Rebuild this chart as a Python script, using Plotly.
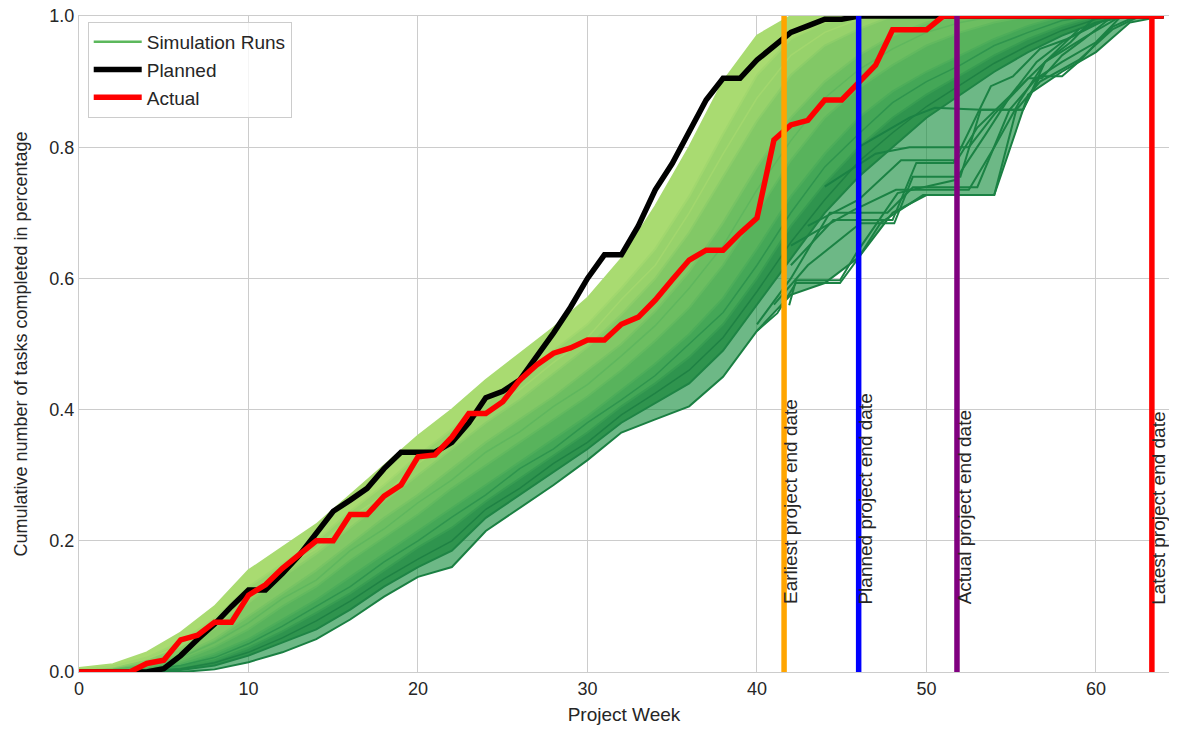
import plotly.graph_objects as go

# ---------------- data ----------------
weeks = [0, 1, 2, 3, 4, 5, 6, 7, 8, 9, 10, 11, 12, 13, 14, 15, 16, 17, 18, 19, 20,
         21, 22, 23, 24, 25, 26, 27, 28, 29, 30, 31, 32, 33, 34, 35, 36, 37, 38, 39, 40,
         41, 42, 43, 44, 45, 46, 47, 48, 49, 50, 51, 52, 53, 54, 55, 56, 57, 58, 59, 60,
         61, 62, 63, 64]

planned = [0, 0, 0, 0, 0, 0.005, 0.025, 0.05, 0.073, 0.10, 0.125, 0.125, 0.15, 0.178, 0.21,
           0.245, 0.262, 0.28, 0.31, 0.335, 0.335, 0.335, 0.35, 0.38, 0.418, 0.428, 0.445,
           0.48, 0.517, 0.556, 0.60, 0.636, 0.636, 0.68, 0.735, 0.775, 0.825, 0.872, 0.905,
           0.905, 0.933, 0.955, 0.975, 0.985, 0.995, 0.995, 1, 1, 1, 1, 1, 1, 1, 1, 1, 1, 1,
           1, 1, 1, 1, 1, 1, 1, 1]

actual = [0, 0, 0, 0, 0.013, 0.018, 0.049, 0.056, 0.076, 0.076, 0.117, 0.133, 0.158, 0.18,
          0.20, 0.20, 0.24, 0.24, 0.268, 0.285, 0.328, 0.331, 0.358, 0.394, 0.394, 0.412,
          0.445, 0.468, 0.486, 0.494, 0.506, 0.506, 0.53, 0.541, 0.567, 0.598, 0.628, 0.643,
          0.643, 0.669, 0.692, 0.811, 0.834, 0.841, 0.872, 0.872, 0.898, 0.925, 0.979, 0.979,
          0.979, 1, 1, 1, 1, 1, 1, 1, 1, 1, 1, 1, 1, 1, 1]

# simulation runs, read every second week (fastest -> slowest)
band_weeks = [0, 2, 4, 6, 8, 10, 12, 14, 16, 18, 20, 22, 24, 26, 28, 30, 32, 34, 36, 38,
              40, 42, 44, 46, 48, 50, 52, 54, 56, 58, 60, 62, 64]
run_0 = [0.006, 0.012, 0.03, 0.06, 0.10, 0.155, 0.19, 0.225, 0.27, 0.315, 0.36, 0.40, 0.445,
         0.485, 0.525, 0.57, 0.63, 0.71, 0.80, 0.90, 0.97, 1, 1, 1, 1, 1, 1, 1, 1, 1, 1, 1, 1]
run_1 = [0.005, 0.009, 0.022, 0.046, 0.082, 0.13, 0.165, 0.20, 0.245, 0.285, 0.33, 0.37, 0.41,
         0.45, 0.49, 0.53, 0.585, 0.645, 0.725, 0.82, 0.91, 0.965, 0.99, 1, 1, 1, 1, 1, 1, 1,
         1, 1, 1]
run_2 = [0.004, 0.007, 0.017, 0.036, 0.066, 0.105, 0.145, 0.18, 0.22, 0.26, 0.30, 0.34, 0.38,
         0.415, 0.455, 0.495, 0.545, 0.60, 0.67, 0.755, 0.84, 0.91, 0.955, 0.98, 1, 1, 1, 1,
         1, 1, 1, 1, 1]
run_3 = [0.003, 0.005, 0.012, 0.026, 0.05, 0.085, 0.12, 0.155, 0.195, 0.235, 0.27, 0.31, 0.35,
         0.385, 0.42, 0.46, 0.50, 0.55, 0.61, 0.685, 0.77, 0.845, 0.90, 0.94, 0.97, 0.99, 1,
         1, 1, 1, 1, 1, 1]
run_4 = [0.002, 0.003, 0.008, 0.018, 0.038, 0.065, 0.10, 0.13, 0.17, 0.205, 0.24, 0.28, 0.315,
         0.35, 0.385, 0.42, 0.46, 0.505, 0.555, 0.62, 0.70, 0.78, 0.845, 0.89, 0.925, 0.955,
         0.975, 0.99, 1, 1, 1, 1, 1]
run_5 = [0.001, 0.002, 0.005, 0.012, 0.028, 0.05, 0.08, 0.11, 0.145, 0.18, 0.215, 0.25, 0.285,
         0.32, 0.355, 0.39, 0.43, 0.47, 0.515, 0.57, 0.645, 0.725, 0.79, 0.845, 0.885, 0.915,
         0.94, 0.965, 0.985, 1, 1, 1, 1]
run_6 = [0, 0.001, 0.003, 0.008, 0.018, 0.037, 0.062, 0.09, 0.12, 0.155, 0.19, 0.22, 0.26,
         0.295, 0.33, 0.365, 0.405, 0.44, 0.48, 0.53, 0.60, 0.68, 0.745, 0.80, 0.845, 0.88,
         0.91, 0.94, 0.965, 0.985, 1, 1, 1]
run_7 = [0, 0, 0.001, 0.003, 0.01, 0.025, 0.045, 0.065, 0.095, 0.13, 0.16, 0.185, 0.235, 0.27,
         0.305, 0.34, 0.38, 0.41, 0.44, 0.49, 0.56, 0.63, 0.70, 0.755, 0.80, 0.845, 0.88,
         0.915, 0.945, 0.97, 0.99, 1, 1]
run_8 = [0, 0, 0, 0, 0.004, 0.015, 0.03, 0.05, 0.08, 0.115, 0.145, 0.16, 0.215, 0.25, 0.285,
         0.323, 0.365, 0.385, 0.405, 0.45, 0.52, 0.575, 0.593, 0.632, 0.70, 0.727, 0.727,
         0.727, 0.88, 0.915, 0.945, 0.99, 1]

# a few single runs inside the dense part of the band
streak_1 = [0.004, 0.008, 0.02, 0.04, 0.072, 0.118, 0.158, 0.188, 0.235, 0.27, 0.318, 0.352,
            0.398, 0.43, 0.472, 0.51, 0.568, 0.62, 0.70, 0.79, 0.875, 0.94, 0.975, 0.995, 1,
            1, 1, 1, 1, 1, 1, 1, 1]
streak_2 = [0.002, 0.004, 0.01, 0.022, 0.045, 0.075, 0.112, 0.14, 0.185, 0.218, 0.258, 0.293,
            0.335, 0.366, 0.405, 0.438, 0.482, 0.528, 0.585, 0.65, 0.735, 0.81, 0.875, 0.918,
            0.95, 0.975, 0.99, 1, 1, 1, 1, 1, 1]
streak_3 = [0, 0.002, 0.004, 0.01, 0.022, 0.043, 0.07, 0.10, 0.13, 0.168, 0.20, 0.236, 0.27,
            0.31, 0.34, 0.38, 0.415, 0.452, 0.50, 0.548, 0.62, 0.70, 0.77, 0.82, 0.868, 0.90,
            0.925, 0.955, 0.975, 0.993, 1, 1, 1]
streak_4 = [0, 0, 0.002, 0.005, 0.014, 0.03, 0.052, 0.078, 0.108, 0.142, 0.172, 0.20, 0.248,
            0.28, 0.318, 0.35, 0.392, 0.425, 0.46, 0.51, 0.58, 0.655, 0.72, 0.778, 0.822,
            0.862, 0.895, 0.928, 0.955, 0.978, 0.995, 1, 1]

# individual late runs visible in the sparse lower-right area
late_a_w = [40, 41.2, 42.3, 44.9, 45.9, 47.3, 49.8, 54.0, 55.3, 56.7, 59.0, 61.0, 62.6, 64]
late_a_v = [0.52, 0.547, 0.593, 0.593, 0.628, 0.685, 0.727, 0.727, 0.857, 0.90, 0.933, 0.98, 1, 1]
late_b_w = [40, 42, 44.3, 47.7, 49.2, 53.0, 54.9, 56.5, 58, 60, 61.5]
late_b_v = [0.53, 0.60, 0.70, 0.70, 0.739, 0.739, 0.857, 0.905, 0.93, 0.96, 1]
late_c_w = [41, 43, 46.1, 48.1, 49.2, 52.0, 53.2, 55.7, 56.7, 58.0, 59.1, 60.0, 61.0, 62.4]
late_c_v = [0.56, 0.62, 0.684, 0.684, 0.755, 0.755, 0.857, 0.857, 0.908, 0.908, 0.933, 0.958, 0.984, 1]
late_d_w = [42, 44.5, 48.0, 49.4, 51.6, 53.8, 55.1, 56.7, 58.3, 60.3, 61]
late_d_v = [0.62, 0.689, 0.689, 0.776, 0.776, 0.893, 0.908, 0.95, 0.965, 0.99, 1]
late_e_w = [42, 45.7, 48.2, 52.5, 54, 55.5, 57, 58.5, 60]
late_e_v = [0.65, 0.704, 0.735, 0.735, 0.80, 0.87, 0.93, 0.96, 1]
late_f_w = [41.9, 42.3, 44.9, 45.9, 48.3, 51.7, 53.5, 55, 57, 59]
late_f_v = [0.559, 0.597, 0.597, 0.64, 0.73, 0.75, 0.82, 0.88, 0.93, 0.98]
late_g_w = [43, 46, 48.5, 51.8, 53, 55, 56.5, 58, 60]
late_g_v = [0.68, 0.72, 0.78, 0.78, 0.83, 0.88, 0.93, 0.96, 0.99]
late_h_w = [44, 47, 49, 52.5, 54, 56, 56.8, 58, 59.3, 61]
late_h_v = [0.74, 0.79, 0.80, 0.80, 0.85, 0.905, 0.905, 0.94, 0.965, 1]
late_i_w = [46, 49, 50.5, 53.2, 55.7, 57, 59.5, 61.5]
late_i_v = [0.80, 0.845, 0.86, 0.857, 0.857, 0.93, 0.97, 1]

# milestone dates (project week)
milestone_names = ["Earliest project end date", "Planned project end date",
                   "Actual project end date", "Latest project end date"]
milestone_weeks = [41.6, 46.0, 51.8, 63.3]
milestone_colors = ["#FFA500", "#0000FF", "#800080", "#FF0000"]

# ---------------- figure ----------------
FONT = "Liberation Sans, Arial, sans-serif"
fig = go.Figure()

runs = [run_8, run_7, run_6, run_5, run_4, run_3, run_2, run_1, run_0]
band_fill = [None, "rgba(20,140,60,0.62)", "#2f944e", "#44a757", "#58b35c",
             "#6cbe61", "#82c866", "#97d26b", "#a9db71"]
band_edge = [None, "#1e8445", "#389d52", "#4dad5a", "#62b95f",
             "#77c364", "#8ccd69", "#a1d76e", "#a9db71"]
for i, r in enumerate(runs):
    if i == 0:
        fig.add_trace(go.Scatter(x=band_weeks, y=r, mode="lines",
                                 line=dict(color="#1a7f42", width=2),
                                 showlegend=False, hoverinfo="skip"))
    else:
        fig.add_trace(go.Scatter(x=band_weeks, y=r, mode="lines",
                                 line=dict(color=band_edge[i], width=2),
                                 fill="tonexty", fillcolor=band_fill[i],
                                 showlegend=False, hoverinfo="skip"))

for s, c in [(streak_1, "#a2d76e"), (streak_2, "#5fb75e"),
             (streak_3, "#2f954e"), (streak_4, "#1f8244")]:
    fig.add_trace(go.Scatter(x=band_weeks, y=s, mode="lines",
                             line=dict(color=c, width=1.5),
                             showlegend=False, hoverinfo="skip"))

for lw, lv in [(late_a_w, late_a_v), (late_b_w, late_b_v), (late_c_w, late_c_v),
               (late_d_w, late_d_v), (late_e_w, late_e_v), (late_f_w, late_f_v),
               (late_g_w, late_g_v), (late_h_w, late_h_v), (late_i_w, late_i_v)]:
    fig.add_trace(go.Scatter(x=lw, y=lv, mode="lines",
                             line=dict(color="#1b8244", width=2),
                             showlegend=False, hoverinfo="skip"))

# legend entry for simulation runs
fig.add_trace(go.Scatter(x=[None], y=[None], mode="lines", name="Simulation Runs",
                         line=dict(color="#5cb85c", width=2.5)))
fig.add_trace(go.Scatter(x=weeks, y=planned, mode="lines", name="Planned",
                         line=dict(color="black", width=5.5)))
fig.add_trace(go.Scatter(x=weeks, y=actual, mode="lines", name="Actual",
                         line=dict(color="red", width=5.5)))

for name, wk, col in zip(milestone_names, milestone_weeks, milestone_colors):
    fig.add_shape(type="line", x0=wk, x1=wk, y0=0, y1=1, xref="x", yref="y",
                  line=dict(color=col, width=5.5), layer="above")
    fig.add_annotation(x=wk, y=0.1, xref="x", yref="y", text=name, showarrow=False,
                       textangle=-90, xanchor="center", yanchor="bottom", xshift=7,
                       font=dict(family=FONT, size=19, color="#262626"))

# page body adds an 8px margin, so the figure is sized to sit inside it
fig.update_layout(
    width=1161, height=717,
    margin=dict(l=71, r=0, t=8, b=53),
    paper_bgcolor="white", plot_bgcolor="white",
    font=dict(family=FONT, size=19, color="#262626"),
    showlegend=True,
    legend=dict(x=0.008, y=0.991, xanchor="left", yanchor="top", traceorder="normal",
                itemwidth=48,
                bgcolor="rgba(255,255,255,0.8)", bordercolor="#cccccc", borderwidth=1,
                font=dict(family=FONT, size=19, color="#262626")),
    xaxis=dict(range=[0, 64.31], tickvals=[0, 10, 20, 30, 40, 50, 60],
               showgrid=True, gridcolor="#cccccc", gridwidth=1.2, zeroline=False,
               showline=True, mirror=True, linecolor="#cccccc", linewidth=1.2,
               automargin=False, ticklabeloverflow="allow",
               ticks="", tickfont=dict(size=18),
               title=dict(text="Project Week", font=dict(size=19), standoff=13)),
    yaxis=dict(range=[0, 1], tickvals=[0, 0.2, 0.4, 0.6, 0.8, 1.0], tickformat=".1f",
               showgrid=True, gridcolor="#cccccc", gridwidth=1.2, zeroline=False,
               showline=True, linecolor="#cccccc", linewidth=1.2,
               automargin=False, ticklabeloverflow="allow",
               ticks="", tickfont=dict(size=18),
               title=dict(text="Cumulative number of tasks completed in percentage",
                          font=dict(size=18), standoff=16)),
)

fig.write_html("out.html")
